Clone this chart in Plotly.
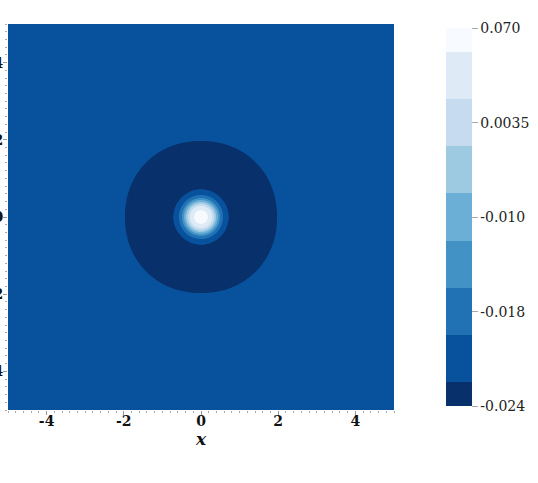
import numpy as np
import plotly.graph_objects as go
import plotly.colors as pc

# colour bar labels: evenly spaced on the bar, non-linear in value
cbar_values = [-0.024, -0.018, -0.010, 0.0035, 0.070]
cbar_labels = ["-0.024", "-0.018", "-0.010", "0.0035", "0.070"]

# axis ticks
tick_vals = [-4, -2, 0, 2, 4]
tick_text = ["-4", "-2", "0", "2", "4"]

# field profile read along the x axis (distance from origin -> value)
radius = [0.0, 0.18, 0.29, 0.34, 0.39, 0.44, 0.49, 0.57, 0.71, 1.2, 1.6, 1.97, 2.5, 3.5, 7.5]
value = [0.070, 0.0534, 0.0201, 0.0001, -0.0066, -0.012, -0.016, -0.0195, -0.0225,
         -0.0240, -0.0235, -0.0225, -0.0213, -0.0210, -0.0210]

x = np.linspace(-5, 5, 401)
y = np.linspace(-5, 5, 401)
X, Y = np.meshgrid(x, y)
r2 = np.hypot(X, Y)
# inner rings are round, the outer dip is slightly squarish
p = np.interp(r2, [0.8, 1.5], [2.0, 2.1])
rp = (np.abs(X) ** p + np.abs(Y) ** p) ** (1 / p)
v = np.interp(rp, radius, value)
# position on the colour bar
pos = [0, 0.25, 0.5, 0.75, 1]
z = np.interp(v, cbar_values, pos)

blues = pc.sequential.Blues[::-1]
cscale = [[i / (len(blues) - 1), c] for i, c in enumerate(blues)]

serif = "DejaVu Serif"

fig = go.Figure()
fig.add_trace(go.Contour(
    x=x, y=y, z=z,
    zmin=0, zmax=1,
    colorscale=cscale,
    autocontour=False,
    contours=dict(start=0.0625, end=0.9375, size=0.125, coloring="fill"),
    line=dict(width=0),
    colorbar=dict(
        tickvals=pos, ticktext=cbar_labels,
        thickness=26, lenmode="pixels", len=378,
        x=1.1347, xanchor="left", xpad=0,
        y=0.499, yanchor="middle", ypad=0,
        outlinewidth=0,
        ticks="outside", ticklen=6, tickcolor="#aaaaaa",
        tickfont=dict(family=serif, size=14, color="#222222"),
    ),
))

axis_style = dict(
    range=[-5, 5], tickvals=tick_vals, ticktext=tick_text,
    showgrid=False, zeroline=False,
    ticks="outside", ticklen=4, tickcolor="#999999",
    minor=dict(dtick=0.2, ticks="outside", ticklen=2, tickcolor="#aaaaaa"),
    tickfont=dict(family=serif, size=14, color="#111111", weight="bold"),
    automargin=False,
)
fig.update_xaxes(**axis_style, ticklabelstandoff=-6,
                 title=dict(text="x", standoff=0,
                            font=dict(family=serif, size=17, style="italic",
                                      weight="bold", color="#111111")))
fig.update_yaxes(**axis_style, ticklabelstandoff=-3)

fig.update_layout(
    width=538, height=483,
    margin=dict(l=8, r=144, t=24, b=73),
    plot_bgcolor="white", paper_bgcolor="white",
)
# page without the default body margin, so the figure starts at the window edge
fig.write_html("out.html", config={"displayModeBar": False},
               post_script="document.body.style.margin = '0';")
